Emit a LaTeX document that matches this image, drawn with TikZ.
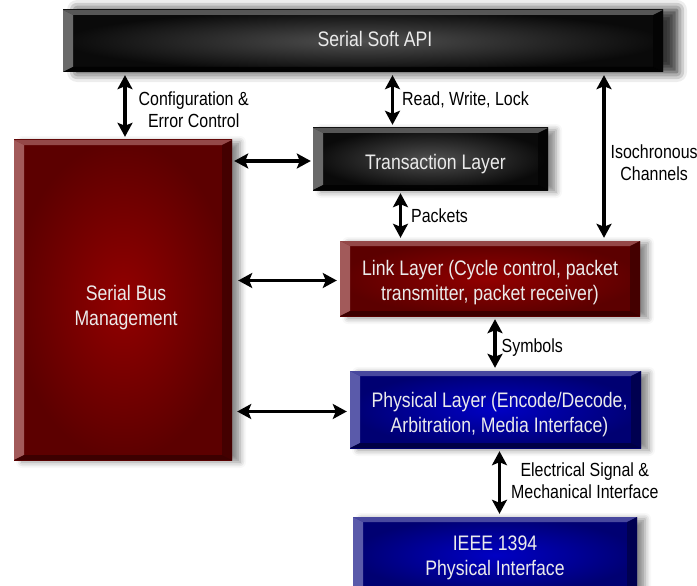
\documentclass[tikz,border=0pt]{standalone}
\usepackage{fontspec}
\newfontfamily\layerfont[FakeStretch=0.84]{Liberation Sans}
\usepackage{tikz}
\usetikzlibrary{arrows.meta,calc,shadows.blur}
\definecolor{apiin}{HTML}{505050}
\definecolor{apiout}{HTML}{0A0A0A}
\definecolor{apilight}{HTML}{6A6A6A}
\definecolor{apidark}{HTML}{000000}
\definecolor{redin}{HTML}{920000}
\definecolor{redout}{HTML}{5C0000}
\definecolor{redlight}{HTML}{A25A5A}
\definecolor{reddark}{HTML}{340000}
\definecolor{bluein}{HTML}{0000C4}
\definecolor{blueout}{HTML}{000072}
\definecolor{bluelight}{HTML}{5A5AAA}
\definecolor{bluedark}{HTML}{00003A}
\newcommand{\layertext}[2][5pt]{\raisebox{-#1}[\height][\depth]{\begin{tabular}{@{}c@{}}#2\end{tabular}}}
\tikzset{
  bevel/.style 2 args={path picture={
    \fill[#1] (path picture bounding box.north west) -- (path picture bounding box.south west)
      -- ([shift={(10pt,5pt)}]path picture bounding box.south west)
      -- ([shift={(10pt,-5pt)}]path picture bounding box.north west) -- cycle;
    \fill[#1, opacity=0.8] (path picture bounding box.north west) -- (path picture bounding box.north east)
      -- ([shift={(-10pt,-5pt)}]path picture bounding box.north east)
      -- ([shift={(10pt,-5pt)}]path picture bounding box.north west) -- cycle;
    \fill[#2, opacity=0.8] (path picture bounding box.south west) -- (path picture bounding box.south east)
      -- ([shift={(-10pt,5pt)}]path picture bounding box.south east)
      -- ([shift={(10pt,5pt)}]path picture bounding box.south west) -- cycle;
    \fill[#2, opacity=0.6] (path picture bounding box.north east) -- (path picture bounding box.south east)
      -- ([shift={(-10pt,5pt)}]path picture bounding box.south east)
      -- ([shift={(-10pt,-5pt)}]path picture bounding box.north east) -- cycle;
  }},
  layer/.style={rectangle, align=center, inner sep=0pt, text=white!92!black,
    font=\layerfont\fontsize{21}{25}\selectfont,
    blur shadow={shadow xshift=8pt, shadow yshift=-2pt, shadow blur radius=6pt, shadow opacity=45}},
  apilayer/.style={layer, inner color=apiin, outer color=apiout, bevel={apilight}{apidark}},
  redlayer/.style={layer, inner color=redin, outer color=redout, bevel={redlight}{reddark}},
  bluelayer/.style={layer, inner color=bluein, outer color=blueout, bevel={bluelight}{bluedark}},
  biarrow/.style={{Stealth[length=14pt,width=15pt,inset=3pt]}-{Stealth[length=14pt,width=15pt,inset=3pt]},
    line width=3.4pt, shorten <=3pt, shorten >=3pt},
  tag/.style={anchor=west, inner sep=0pt, align=center, text=black,
    font=\layerfont\fontsize{19}{22}\selectfont}
}
\begin{document}
\begin{tikzpicture}[x=1pt, y=-1pt]
\useasboundingbox (0,0) rectangle (697,586);
\node[apilayer, minimum width=600pt, minimum height=62pt,
  blur shadow={shadow xshift=14pt, shadow yshift=0pt, shadow blur radius=10pt, shadow opacity=55}]
  (api) at (363,41) {\layertext[1pt]{\hspace*{24pt}Serial Soft API}};
\node[redlayer, minimum width=218pt, minimum height=320pt] (sbm) at (123,300) {\layertext[8pt]{\hspace*{6pt}Serial Bus\\\hspace*{6pt}Management}};
\node[apilayer, minimum width=235pt, minimum height=62pt] (trans) at (430.5,159) {\layertext{\hspace*{10pt}Transaction Layer}};
\node[redlayer, minimum width=300pt, minimum height=75pt] (link) at (490,278.5) {\layertext[4pt]{Link Layer (Cycle control, packet\\transmitter, packet receiver)}};
\node[bluelayer, minimum width=291pt, minimum height=77pt] (phys) at (495.5,409.5) {\layertext{\hspace*{8pt}Physical Layer (Encode/Decode,\\\hspace*{8pt}Arbitration, Media Interface)}};
\node[bluelayer, minimum width=284pt, minimum height=76pt] (ieee) at (495,555) {\layertext[3pt]{IEEE 1394\\Physical Interface}};

\draw[biarrow] ([xshift=2pt]sbm.north |- api.south) -- ([xshift=2pt]sbm.north)
  node[tag, midway, xshift=12pt, yshift=-4pt] (cfgtag) {Configuration \&\\Error Control};
\draw[biarrow] ([xshift=-38pt]trans.north |- api.south) -- ([xshift=-38pt]trans.north)
  node[tag, midway, xshift=8pt] (rwltag) {Read, Write, Lock};
\draw[biarrow] ([xshift=114pt]link.north |- api.south) -- ([xshift=114pt]link.north)
  node[tag, midway, xshift=5pt, yshift=-6pt] (isotag) {Isochronous\\Channels};
\draw[biarrow] ([xshift=-30pt]trans.south) -- ([xshift=-30pt]trans.south |- link.north)
  node[tag, midway, xshift=9pt] (pkttag) {Packets};
\draw[biarrow] ([xshift=5pt]link.south) -- ([xshift=5pt]link.south |- phys.north)
  node[tag, midway, xshift=5pt, yshift=-4pt] (symtag) {Symbols};
\draw[biarrow] ([xshift=4pt]phys.south) -- ([xshift=4pt]phys.south |- ieee.north)
  node[tag, midway, xshift=10pt, yshift=2pt] (eletag) {Electrical Signal \&\\Mechanical Interface};

\draw[biarrow, shorten <=2pt, shorten >=2pt] ([yshift=-2pt]sbm.east |- trans.west) -- ([yshift=-2pt]trans.west);
\draw[biarrow, shorten <=6pt, shorten >=3pt] ([yshift=-2pt]sbm.east |- link.west) -- ([yshift=-2pt]link.west);
\draw[biarrow, shorten <=5pt, shorten >=3pt] ([yshift=-2pt]sbm.east |- phys.west) -- ([yshift=-2pt]phys.west);
\end{tikzpicture}
\end{document}
